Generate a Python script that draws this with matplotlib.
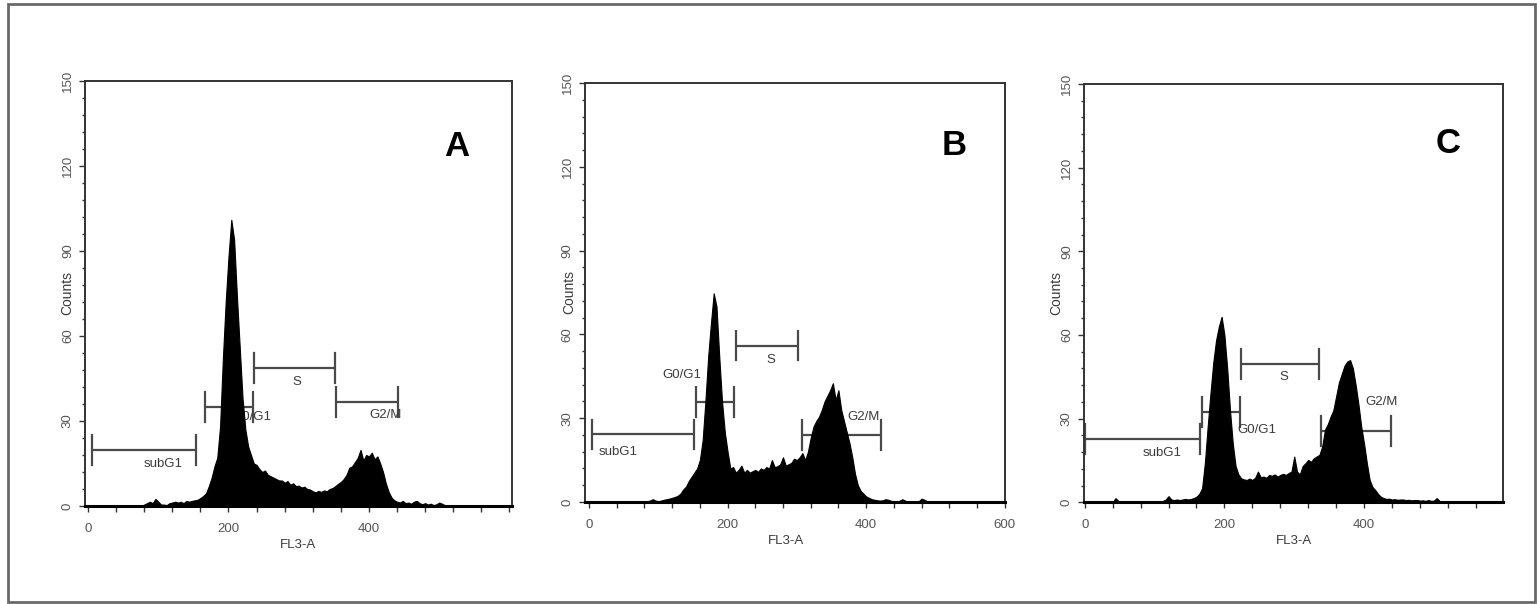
import numpy as np
import matplotlib
matplotlib.use('Agg')
import matplotlib.pyplot as plt
from matplotlib.patches import Rectangle
from matplotlib.ticker import MultipleLocator

plt.rcParams['font.family'] = ['Liberation Sans', 'DejaVu Sans']

# FL3-A bin centres, 4 channels per bin
channels = np.arange(40, 524, 4)

# counts per bin
counts_a = [0, 0, 0, 0, 0, 0, 0, 0, 0, 0,
            0.5, 1, 1.5, 1, 2.5, 1.5, 0.5, 0.5, 0.3, 1,
            1.2, 1.5, 1.2, 1.5, 1, 1.8, 1.5, 1.8, 2, 2.2,
            2.8, 3.5, 4.5, 7, 10, 14, 17, 28, 52, 72,
            88, 101, 94, 74, 56, 38, 27, 21, 18, 15,
            14.5, 13, 12, 12.5, 11, 10.5, 10, 9.5, 9, 9,
            8.2, 8.8, 7.5, 8, 7, 7.2, 6.5, 6.8, 6, 5.8,
            5.2, 4.8, 5.3, 5, 5.5, 5.2, 6, 6.3, 7, 7.8,
            8.5, 9.5, 11, 13.5, 14, 15.5, 17, 19.8, 16, 18,
            17.5, 18.8, 16.5, 17.5, 15, 12, 8, 5, 3, 2,
            1.5, 1.2, 1.8, 1, 1.2, 0.8, 1.5, 1.8, 1, 0.6,
            1, 0.5, 0.8, 0.3, 0.6, 1.2, 0.8, 0.3, 0.3, 0,
            0]

counts_b = [0, 0, 0, 0, 0, 0, 0, 0, 0, 0,
            0, 0.3, 0.5, 1, 0.5, 0.3, 0.5, 0.8, 1, 1.2,
            1.5, 1.8, 2.2, 3, 4.5, 5.5, 7.5, 9, 10.5, 12,
            15, 22, 36, 52, 64, 74.7, 70, 52, 36, 25,
            18, 12, 12.5, 10.5, 11.5, 13, 10.5, 11.5, 10.5, 11,
            11.5, 10.8, 12, 11.5, 12.5, 12, 15, 12.5, 12.8, 13.5,
            16, 13, 13.5, 14, 15.5, 15, 16, 17.5, 15, 18,
            23, 27, 29, 30.5, 33, 36, 38, 40, 42.5, 36.5,
            40, 33, 29, 25, 21, 16, 10, 6, 4, 3,
            2, 1.5, 1, 0.8, 0.6, 0.5, 0.6, 1, 0.8, 0.4,
            0.3, 0.3, 0.4, 1, 0.5, 0.2, 0.2, 0.3, 0.2, 0.3,
            1.2, 0.8, 0.3, 0.2, 0, 0, 0, 0, 0, 0,
            0]

counts_c = [0, 1.5, 0.5, 0, 0, 0, 0, 0, 0, 0,
            0, 0, 0, 0, 0, 0, 0.2, 0.3, 0.5, 1,
            2.2, 1, 0.8, 1, 0.8, 1, 1.2, 1, 1.2, 1.5,
            2, 3, 5, 14, 27, 39, 50, 58, 63, 66.5,
            60, 48, 33, 21, 13, 10, 8.6, 8.2, 8, 8.5,
            8, 8.8, 11, 9, 9.2, 8.8, 9.8, 9.5, 10, 9.2,
            9.8, 10.2, 9.8, 10.5, 11, 16.4, 11, 10, 13, 14,
            15.2, 14.5, 15.8, 16.4, 17, 20, 26, 28, 30.7, 33,
            38, 43, 46, 49, 50.5, 51, 48, 42, 35, 27,
            21, 14, 8, 5.5, 4.4, 3, 2, 1.5, 1.2, 1.3,
            1, 1.1, 0.9, 1, 1, 0.8, 0.9, 0.7, 0.8, 0.8,
            0.6, 0.7, 0.5, 0.8, 0.5, 0.6, 1.5, 0.5, 0.2, 0,
            0]

gate_names = ['subG1', 'G0/G1', 'S', 'G2/M']

# gate markers: (start channel, end channel, height in counts)
gates_a = [(5, 154, 19.8), (166, 235, 34.8), (236, 351, 48.6), (353, 441, 36.8)]
gates_b = [(5, 151, 24.2), (154, 209, 35.9), (212, 302, 56), (307, 422, 23.9)]
gates_c = [(1, 165, 22.7), (168, 222, 32.4), (224, 335, 49.6), (339, 439, 25.6)]

# where each gate name is written
gate_text_a = [(107, 14.8), (234, 31.5), (297, 43.9), (424, 32)]
gate_text_b = [(42, 18), (134, 45.5), (263, 51), (396, 30.5)]
gate_text_c = [(111, 17.7), (247, 26), (285, 45), (425, 36)]

xticks_a = [0, 200, 400]
xticks_b = [0, 200, 400, 600]
xticks_c = [0, 200, 400]
yticks = [0, 30, 60, 90, 120, 150]

panels = [
    ('A', counts_a, gates_a, gate_text_a, xticks_a, [0.0553, 0.1623, 0.2778, 0.7036], (-4.3, 603.6), -0.042, 0.0),
    ('B', counts_b, gates_b, gate_text_b, xticks_b, [0.3806, 0.1689, 0.2733, 0.6937], (-5.8, 600.5), -0.038, -0.021),
    ('C', counts_c, gates_c, gate_text_c, xticks_c, [0.7053, 0.1684, 0.2726, 0.6926], (-1.0, 599.0), -0.067, 0.0),
]
letter_pos = [(0.870, 0.845), (0.879, 0.851), (0.869, 0.857)]

fig = plt.figure(figsize=(15.37, 6.04), dpi=100)

# grey frame round the whole figure
fig.patches.append(Rectangle((0.0052, 0.0033), 0.9935, 0.990, transform=fig.transFigure,
                             fill=False, edgecolor='#6a6a6a', linewidth=2))

gate_col = '#4a4a4a'
tick_col = '#555555'

for i, (letter, counts, gates, gate_text, xticks, box, xlim, ylab_x, xlab_dx) in enumerate(panels):
    ax = fig.add_axes(box)

    ax.fill_between(channels, counts, color='black', linewidth=0.8, edgecolor='black', zorder=3)

    for (x1, x2, h) in gates:
        ax.plot([x1, x2], [h, h], color=gate_col, lw=1.6, zorder=2, solid_capstyle='butt')
        ax.plot([x1, x1], [h - 5.3, h + 5.3], color=gate_col, lw=1.6, zorder=2)
        ax.plot([x2, x2], [h - 5.3, h + 5.3], color=gate_col, lw=1.6, zorder=2)
    for name, (tx, ty) in zip(gate_names, gate_text):
        ax.text(tx, ty, name, ha='center', va='center', fontsize=9.5, color='#3a3a3a', zorder=2)

    ax.set_xlim(*xlim)
    ax.set_ylim(0, 150)
    ax.set_xticks(xticks)
    ax.xaxis.set_minor_locator(MultipleLocator(40))
    ax.set_yticks(yticks)
    ax.yaxis.set_minor_locator(MultipleLocator(6))
    ax.tick_params(which='both', direction='out', colors='#333333', labelcolor=tick_col, labelsize=9.5)
    ax.tick_params(axis='x', which='major', length=4, width=1, pad=8)
    ax.tick_params(axis='x', which='minor', length=4, width=1)
    ax.tick_params(axis='y', which='major', length=4, width=1, pad=4)
    ax.tick_params(axis='y', which='minor', length=2.5, width=1)
    for lbl in ax.get_yticklabels():
        lbl.set_rotation(90)
        lbl.set_va('center')
        lbl.set_ha('right')

    for side in ['top', 'right', 'left']:
        ax.spines[side].set_linewidth(1.4)
        ax.spines[side].set_color('#333333')
    ax.spines['bottom'].set_linewidth(2.2)
    ax.spines['bottom'].set_color('black')

    ax.text(ylab_x, 0.5, 'Counts', rotation=90, transform=ax.transAxes,
            ha='center', va='center', fontsize=10, color='#3a3a3a')
    ax.text(0.5 + xlab_dx, -0.093, 'FL3-A', transform=ax.transAxes,
            ha='center', va='center', fontsize=9.5, color='#3a3a3a')

    lx, ly = letter_pos[i]
    ax.text(lx, ly, letter, transform=ax.transAxes, ha='center', va='center',
            fontsize=25, fontweight='bold', color='black')

fig.savefig('out.png', dpi=100, facecolor='white')
